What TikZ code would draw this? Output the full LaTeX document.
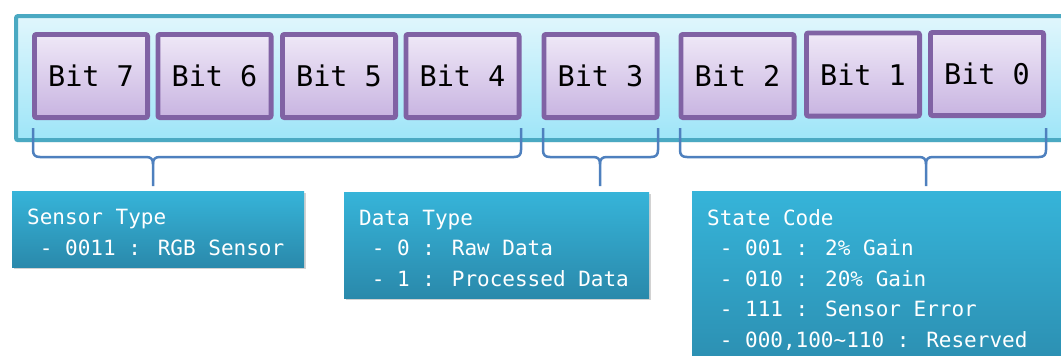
\documentclass[tikz,border=0pt]{standalone}
\usepackage{fontspec}
\newfontfamily\monof{DejaVu Sans Mono}
\usetikzlibrary{shadows,calc}
\definecolor{contborder}{HTML}{4AA9C2}
\definecolor{conttop}{HTML}{E0F6FC}
\definecolor{contbot}{HTML}{9EE5F8}
\definecolor{bitborder}{HTML}{8062A4}
\definecolor{bittop}{HTML}{EFE8F7}
\definecolor{bitbot}{HTML}{C8B4E1}
\definecolor{infotop}{HTML}{36B4D9}
\definecolor{infobot}{HTML}{2A89AB}
\definecolor{bracecol}{HTML}{4E80BE}
\newcommand\lsp{\hphantom{x}}
\newcommand\drawbrace[4]{%
  \draw[bracestyle] (#2,128) -- (#2,150) .. controls (#2,155) and ({#2+2},157) .. ({#2+7},157)
    -- ({#4-7},157) .. controls ({#4-2},157) and (#4,159) .. (#4,164) coordinate (#1) -- (#4,186);
  \draw[bracestyle] (#1) .. controls (#4,159) and ({#4+2},157) .. ({#4+7},157)
    -- ({#3-7},157) .. controls ({#3-2},157) and (#3,155) .. (#3,150) -- (#3,128);
}
\begin{document}
\begin{tikzpicture}[x=1pt,y=-1pt,
  bitbox/.style={draw=bitborder, line width=4.8pt, rounded corners=2pt, top color=bittop, bottom color=bitbot,
    minimum width=113.2pt, minimum height=83.2pt, inner sep=0pt, font=\fontsize{28.5}{30}\monof, text=black},
  infobox/.style={top color=infotop, bottom color=infobot, anchor=north west, inner sep=0pt,
    drop shadow={opacity=0.35, shadow xshift=2pt, shadow yshift=-2pt}},
  infotext/.style={anchor=base west, align=left, inner sep=0pt, text=white, font=\fontsize{21}{30.5}\monof},
  bracestyle/.style={line width=2.5pt, draw=bracecol, line join=round}]
\clip (0,0) rectangle (1061,356);
\fill[white] (0,0) rectangle (1061,356);
\node[draw=contborder, line width=4.2pt, top color=conttop, bottom color=contbot, minimum width=1070pt,
  minimum height=124pt, anchor=north west, inner sep=0pt, rounded corners=2pt,
  drop shadow={opacity=0.25, shadow xshift=1pt, shadow yshift=-2pt}] (cont) at (14,14) {};
\node[bitbox] (b7) at (91,76) {Bit 7};
\node[bitbox] (b6) at (214.5,76) {Bit 6};
\node[bitbox] (b5) at (339,76) {Bit 5};
\node[bitbox] (b4) at (462.5,76) {Bit 4};
\node[bitbox] (b3) at (600.5,76) {Bit 3};
\node[bitbox] (b2) at (737.5,76) {Bit 2};
\node[bitbox] (b1) at (863,74.5) {Bit 1};
\node[bitbox] (b0) at (987,74) {Bit 0};
\drawbrace{t1}{33}{521}{153}
\drawbrace{t2}{543}{658}{600}
\drawbrace{t3}{680}{1046}{926}
\node[infobox, minimum width=292pt, minimum height=76pt] (st) at (12,191) {};
\node[infobox, minimum width=305pt, minimum height=106pt] (dt) at (344,192) {};
\node[infobox, minimum width=400pt, minimum height=200pt] (sc) at (692,191) {};
\node[infotext] (stt) at (27,255) {Sensor Type\\\lsp- 0011 : RGB Sensor};
\node[infotext] (dtt) at (359,286) {Data Type\\\lsp- 0 : Raw Data\\\lsp- 1 : Processed Data};
\node[infotext] (sct) at (707,347) {State Code\\\lsp- 001 : 2\% Gain\\\lsp- 010 : 20\% Gain\\\lsp- 111 : Sensor Error\\\lsp- 000,100\textasciitilde110 : Reserved};
\end{tikzpicture}
\end{document}
